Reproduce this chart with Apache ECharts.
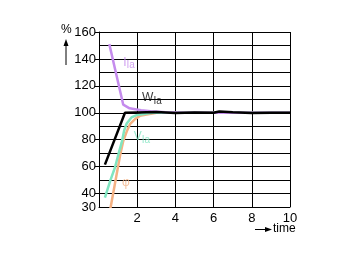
<!DOCTYPE html>
<html><head><meta charset="utf-8">
<script src="https://cdn.jsdelivr.net/npm/echarts@6/dist/echarts.min.js"></script>
<style>html,body{margin:0;padding:0;background:#fff}#c{width:360px;height:262px}</style>
</head><body><div id="c"></div>
<script>
const xTicks = [2, 4, 6, 8, 10];
const yLabels = [30, 40, 60, 80, 100, 120, 140, 160];
const yTicks = [40, 60, 80, 100, 120, 140, 160];
const iIa = [[0.54,151],[1.27,106],[1.6,103.3],[2.2,101.8],[2.7,101.2],[3.5,100.3],[4.5,100],[10,100]];
const wIa = [[0.31,61.5],[1.36,100],[2,100.2],[3,100.5],[4,99.8],[5,100.2],[6,100],[6.3,101],[7,100.3],[8,99.8],[9,100],[10,100]];
const vIa = [[0.31,37],[0.6,50],[0.84,59.5],[1.05,71],[1.19,78],[1.32,87],[1.45,92],[1.7,96.5],[1.97,98.3],[2.8,100],[10,100]];
const phi = [[0.6,29],[0.92,54],[1.1,68],[1.27,79],[1.45,86],[1.62,91.5],[1.9,95.5],[2.14,97.7],[3.0,100],[10,100]];
const labels = [
  { text: '{m|I}{s|Ia}', x: 1.57, y: 137.5, color: '#c58ced' },
  { text: '{m|W}{s|Ia}', x: 2.77, y: 111, color: '#000' },
  { text: '{m|V}{s|Ia}', x: 2.25, y: 82, color: '#7fe5c0' },
  { text: '{m|φ}', x: 1.41, y: 48, color: '#f4b183' }
];
const FONT = 'Liberation Sans, Arial, sans-serif';
const chart = echarts.init(document.getElementById('c'));
const axisBase = { axisLine: { show: true, lineStyle: { color: '#000', width: 1 } } };
chart.setOption({
  animation: false,
  grid: { left: 99, right: 70, top: 32, bottom: 55 },
  xAxis: { type: 'value', min: 0, max: 10, interval: 2,
    axisLine: { show: true, lineStyle: { color: '#000', width: 1 } },
    axisTick: { show: false },
    splitLine: { show: true, lineStyle: { color: '#000', width: 1 } },
    axisLabel: { customValues: xTicks, color: '#000', fontSize: 13, fontFamily: FONT, margin: 5 } },
  yAxis: [
    { type: 'value', min: 30, max: 160, interval: 10,
      axisLine: { show: true, lineStyle: { color: '#000', width: 1 } },
      axisTick: { show: true, customValues: yTicks, length: 4, lineStyle: { color: '#000' } },
      splitLine: { show: false },
      axisLabel: { customValues: yLabels, color: '#000', fontSize: 13, fontFamily: FONT, margin: 3 } },
    { type: 'value', min: 30, max: 160, interval: 10, position: 'left',
      axisLine: { show: false }, axisTick: { show: false }, axisLabel: { show: false },
      splitLine: { show: true, lineStyle: { color: '#000', width: 1 } } }
  ],
  series: [
    { type: 'line', data: phi, showSymbol: false, lineStyle: { color: '#f4b183', width: 2.5 }, z: 2 },
    { type: 'line', data: vIa, showSymbol: false, lineStyle: { color: '#7fe5c0', width: 2.5 }, z: 3 },
    { type: 'line', data: iIa, showSymbol: false, lineStyle: { color: '#c58ced', width: 2.5 }, z: 4 },
    { type: 'line', data: wIa, showSymbol: false, lineStyle: { color: '#000', width: 2.5 }, z: 5 },
    { type: 'scatter', symbolSize: 1, itemStyle: { color: 'rgba(0,0,0,0)' }, z: 6,
      data: labels.map(l => ({ value: [l.x, l.y],
        label: { show: true, position: 'inside', formatter: l.text,
          rich: { m: { fontSize: 12, color: l.color, fontFamily: FONT },
                  s: { fontSize: 10, color: l.color, fontFamily: FONT, padding: [6, 0, 0, 0] } } } })) }
  ],
  graphic: [
    { type: 'text', left: 61, top: 24, style: { text: '%', fontSize: 12, fontFamily: FONT, fill: '#000' } },
    { type: 'line', shape: { x1: 66, y1: 65, x2: 66, y2: 45 }, style: { stroke: '#000', lineWidth: 1 } },
    { type: 'polygon', shape: { points: [[63.5,46],[68.5,46],[66,39]] }, style: { fill: '#000' } },
    { type: 'line', shape: { x1: 255, y1: 229.5, x2: 266, y2: 229.5 }, style: { stroke: '#000', lineWidth: 1 } },
    { type: 'polygon', shape: { points: [[265,227],[265,232],[272,229.5]] }, style: { fill: '#000' } },
    { type: 'text', left: 273, top: 223, style: { text: 'time', fontSize: 12, fontFamily: FONT, fill: '#000' } }
  ]
});
</script></body></html>
